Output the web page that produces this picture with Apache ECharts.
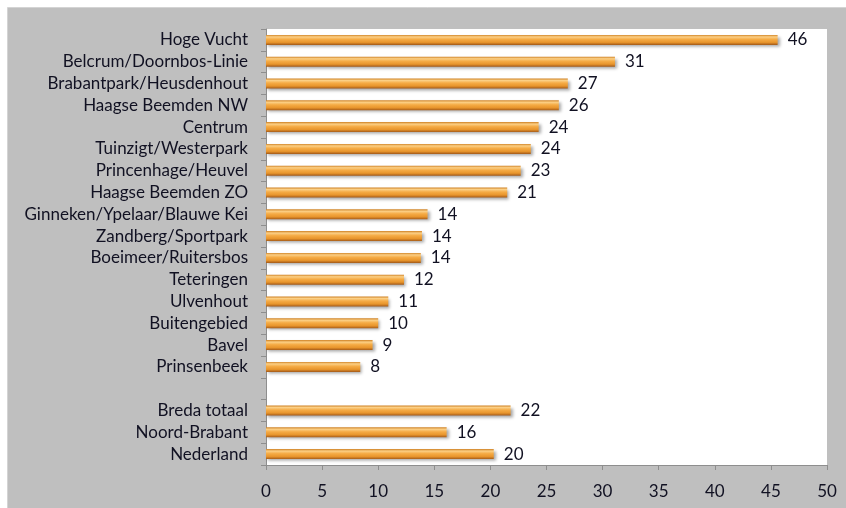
<!DOCTYPE html>
<html>
<head>
<meta charset="utf-8">
<script src="https://cdn.jsdelivr.net/npm/echarts@6/dist/echarts.min.js"></script>
<style>
html,body{margin:0;padding:0;background:#fff;}
#c{width:846px;height:508px;}
</style>
</head>
<body>
<div id="c"></div>
<script>
const categories = ['Hoge Vucht','Belcrum/Doornbos-Linie','Brabantpark/Heusdenhout','Haagse Beemden NW','Centrum','Tuinzigt/Westerpark','Princenhage/Heuvel','Haagse Beemden ZO','Ginneken/Ypelaar/Blauwe Kei','Zandberg/Sportpark','Boeimeer/Ruitersbos','Teteringen','Ulvenhout','Buitengebied','Bavel','Prinsenbeek','','Breda totaal','Noord-Brabant','Nederland'];
const values = [45.6,31.1,26.9,26.1,24.3,23.6,22.7,21.5,14.4,13.9,13.8,12.3,10.9,10.0,9.5,8.4,null,21.8,16.1,20.3];
const valueLabels = ['46','31','27','26','24','24','23','21','14','14','14','12','11','10','9','8','','22','16','20'];
const xTicks = [0,5,10,15,20,25,30,35,40,45,50];

const chart = echarts.init(document.getElementById('c'), null, {renderer:'canvas'});
const font = 'Lato, "Open Sans", sans-serif';
const textColor = '#111122';
chart.setOption({
  animation:false,
  backgroundColor:'#ffffff',
  graphic:[{
    type:'rect', z:-10, silent:true,
    shape:{x:7.5,y:7.5,width:846,height:508},
    style:{fill:'#bfbfbf',stroke:'#d4d4d4',lineWidth:1}
  }],
  grid:{left:266,top:29,right:19,bottom:43,show:true,backgroundColor:'#ffffff',borderWidth:0,containLabel:false},
  xAxis:{
    type:'value', min:xTicks[0], max:xTicks[xTicks.length-1], interval:5,
    axisLine:{show:true,lineStyle:{color:'#8e8e8e',width:1}},
    axisTick:{show:true,length:5,lineStyle:{color:'#8e8e8e'}},
    splitLine:{show:false},
    axisLabel:{margin:18,fontFamily:font,fontSize:17,color:textColor}
  },
  yAxis:{
    type:'category', data:categories, inverse:true,
    axisLine:{show:true,lineStyle:{color:'#8e8e8e',width:1}},
    axisTick:{show:true,length:5,lineStyle:{color:'#8e8e8e'}},
    axisLabel:{interval:0,hideOverlap:false,margin:18,fontFamily:font,fontSize:17,color:textColor}
  },
  series:[{
    type:'bar', data:values, barWidth:10,
    itemStyle:{
      color:new echarts.graphic.LinearGradient(0,0,0,1,[
        {offset:0,color:'#d08326'},
        {offset:0.2,color:'#fbcf85'},
        {offset:0.45,color:'#f5ab45'},
        {offset:0.75,color:'#e8952c'},
        {offset:1,color:'#a45a18'}
      ]),
      shadowColor:'rgba(0,0,0,0.35)',shadowBlur:3,shadowOffsetX:2,shadowOffsetY:2
    },
    label:{
      show:true, position:'right', distance:10,
      fontFamily:font, fontSize:17, color:textColor,
      formatter:p=>valueLabels[p.dataIndex]
    }
  }]
});
</script>
</body>
</html>
